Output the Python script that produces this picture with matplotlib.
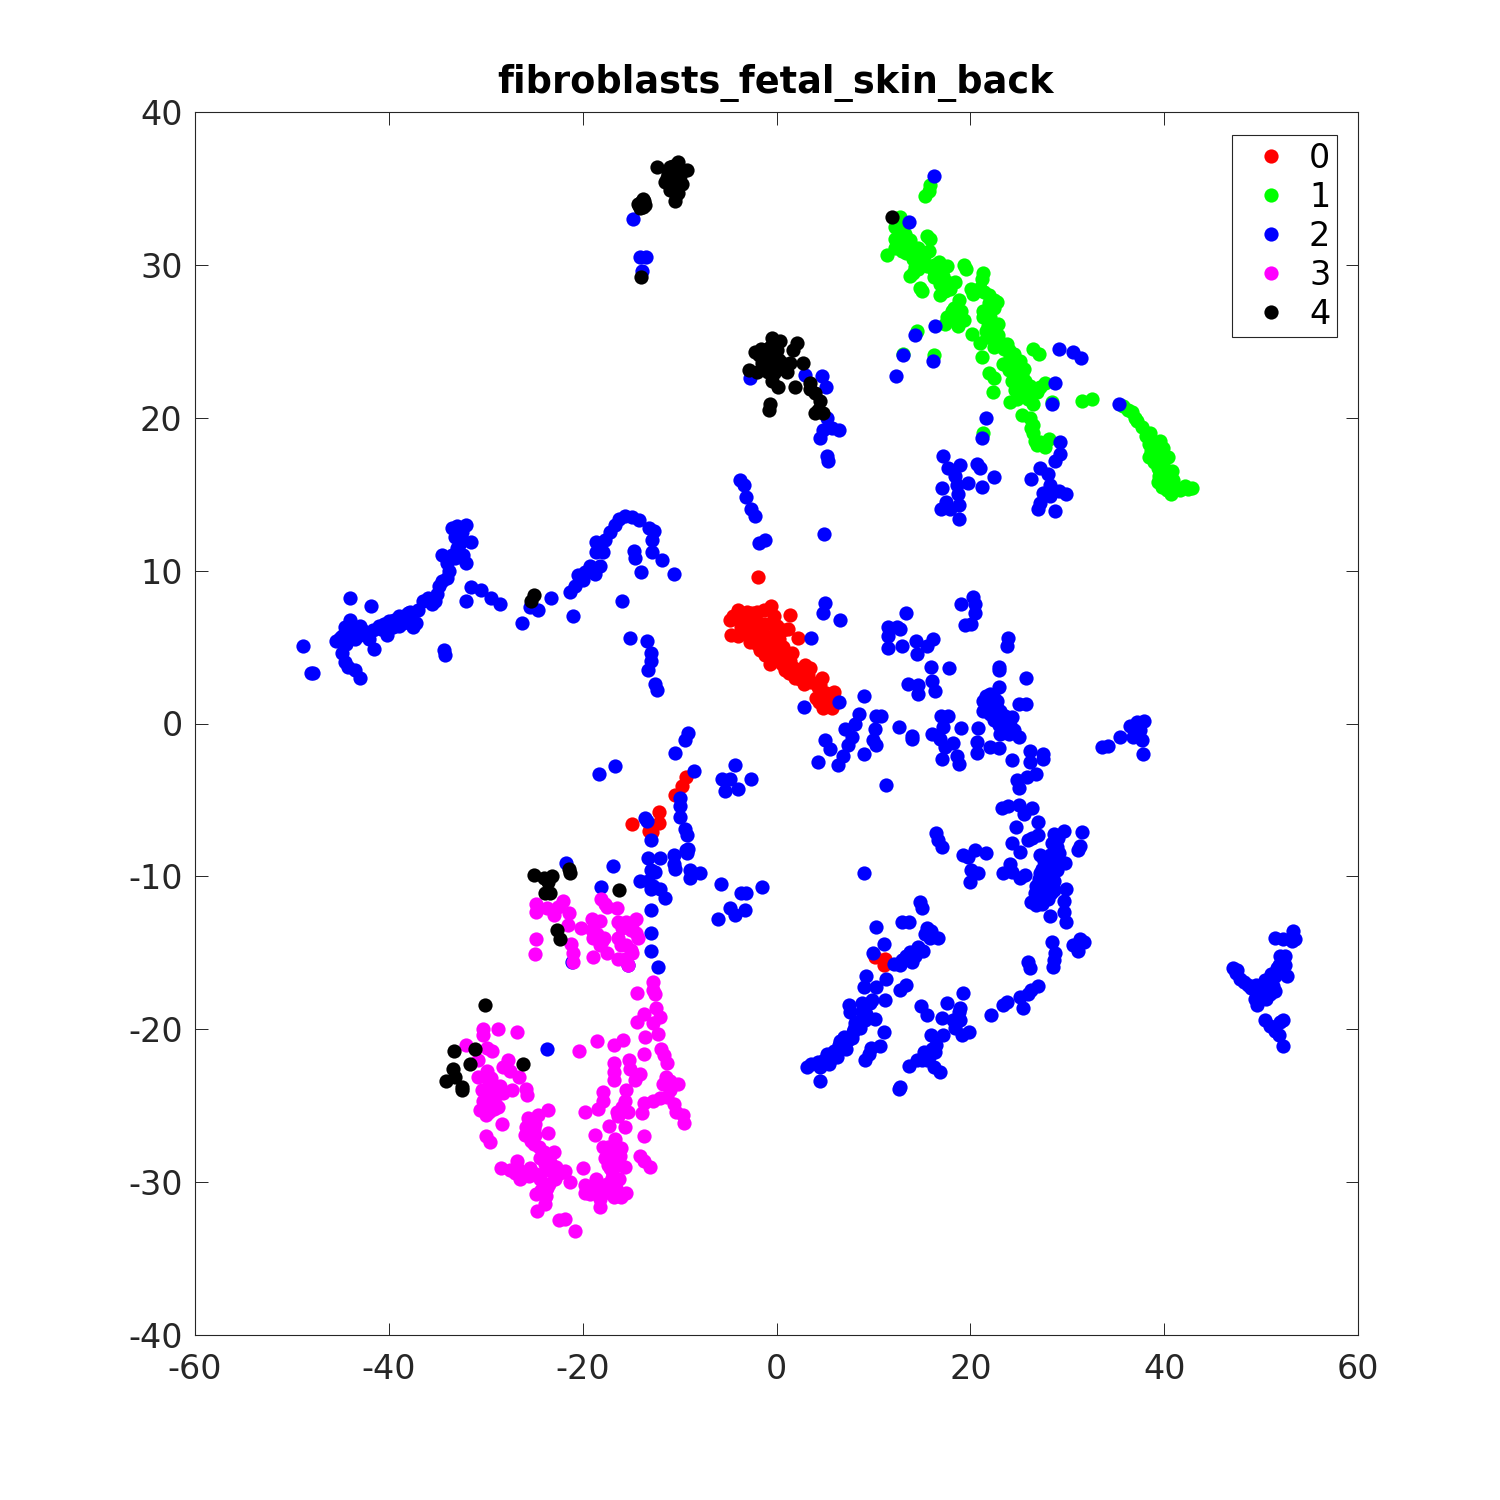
import matplotlib
matplotlib.use("Agg")
import matplotlib.pyplot as plt

plt.rcParams['axes.unicode_minus'] = False

# t-SNE style coordinates, one list per cluster/region
red_main = [(-1.9,9.6),(1.4,7.1),(-4.8,6.8),(-4.5,7),(-4,7.4),(-3.5,6.7),(-3,7.3),(-2.5,7.2),(-2,7.3),(-1.3,7.4),(-0.6,7.7),
    (-0.3,7),(-4.7,5.8),(-4,5.7),(-3.2,5.9),(-3,6.6),(-2.7,5.3),(-2.2,6),(-2,5.2),(-1.7,4.8),(-1.5,6),(-1.2,4.5),(-1,5.5),
    (-0.7,3.9),(-0.5,6.5),(-0.3,5.3),(-0.2,4.6),(0,4.2),(0,5.9),(0,6.4),(0.3,5.5),(0.5,4.5),(0.6,3.9),(0.7,6.1),(0.7,5),(0.9,3.5),
    (1,4.4),(1.2,6.2),(1.2,3.7),(2.2,5.6),(1.6,4.6),(1.4,4.1),(2.9,3.8),(3.5,3.6),(2.6,3.4),(1.9,3),(2.8,2.6),(3.3,3.2),(4.7,3),
    (4.3,2.4),(5.9,2.05),(4.1,1.7),(5.2,1.7),(4.8,1),(5.7,1),(5,1.4)]
red_dense = [(-3.7,6.3),(-2.5,6.5),(-1.8,6.6),(-1.2,6.5),(-3.2,6.3),(-2,5.7),(-1.4,5.2),(-0.8,4.9),(-0.5,5.7),(0.5,5.1),(0.9,4.7),
    (-0.4,4.3),(0.2,4.8),(1.3,3.3),(1.8,3.6),(2.2,3.2),(2.4,2.9),(3,3.3),(3.1,2.9),(3.6,2.7),(4.5,2.5),(4.6,1.9),(4.4,1.4),(5.1,2),(5.3,1.2),
    (4.9,1.7),(5.5,1.5)]
red_other = [(-14.9,-6.6),(-13.2,-7),(-12.8,-7.1),(-12.1,-6.5),(-12.1,-5.8),(-10.5,-4.7),(-9.8,-4.1),(-9.3,-3.5),(10.2,-15.3),(11.2,-15.4),(11.1,-15.8)]

green_upper = [(15.8,35.2),(15.7,34.8),(15.3,34.5),(12.7,33.1),(12.2,32.5),(12.2,31.7),(13.3,32),(13.8,31.6),(12.9,31.3),(11.4,30.65),
    (12.2,31.1),(13.4,30.8),(14.3,30.9),(15.5,31.9),(15.8,31.7),(15.7,30.9),(14.5,30.3),(15.1,30.1),(13.8,29.3),(14.3,29.85),(14.8,28.5),
    (15,28.3),(16.8,30.2),(17.6,29.9),(16.7,29.4),(17.2,29.3),(16.9,28.75),(18.4,28.9),(17.9,28.4),(16.9,28),(19.3,30),(19.6,29.7),
    (21.3,29.5),(21.2,29.1),(20.1,28.4),(20.3,28.1),(21,28.5),(21.9,28),(22.7,27.6),(22.4,27.2),(18.8,27.7),(18.1,27),(18.8,26.9),
    (17.6,26.6),(17.4,26.1),(19.3,26.4),(18.7,26),(21.3,27),(21.3,26.6),(22,26.6),(22.9,26.1),(22.4,25.9),(20.2,25.5),(21.7,25.3),
    (22.9,25.4),(21,24.9),(21.2,24),(22.4,24.6),(23.8,24.8),(26.5,24.5),(27.1,24.2),(24.1,24),(25.1,23.7),(23.4,23.5),(24.4,23.3),
    (25.5,23.2),(21.9,22.9),(22.4,22.6),(22.3,21.7),(24.3,22.4),(25.1,22.4),(24.6,21.8),(26.2,22.1),(25.6,21.7),(24.1,21),(26.5,20.9),
    (26.9,21.7),(27.7,22.3),(28.4,21),(25.3,20.2),(26.2,20),(26.5,19.5),(26.5,19),(26.9,18.2),(28.1,18.6),(27.7,18.1),(21.3,19),
    (14.5,25.7),(16.3,24.1),(13.1,24.2)]
green_dense = [(12.7,32),(13,31.8),(12.6,32.7),(13.5,31.2),(13,30.9),(14,31.2),(14.6,31.1),(14.1,30.4),(14.8,30.6),(15.2,30.6),(14.6,29.7),(14.1,29.5),
    (15.5,29.9),(16.2,29.6),(16.3,30),(17,29.8),(16.3,29.2),(17,29),(17.6,28.9),(17.4,28.3),(17.2,28.5),(21.9,27.5),(22.2,26.1),(21.8,26),(21.6,25.7),
    (22.3,25.3),(23,25),(23.5,24.5),(24,24.4),(24.5,24.2),(24.6,23.7),(24.8,23.3),(24,23.1),(24.8,22.9),(25.3,22.8),(25,22),(25.6,22.4),(25,21.4),
    (24.8,21.2),(26,21.2),(26.2,21.5),(26.3,19.3),(26.7,18.5),(27.2,18.4),(18.3,27.2),(19,27),(18.3,26.4),(20.6,28.3),(21.4,28.2),(22.4,27.7),(27.2,22)]
green_tail = [(31.5,21.1),(32.6,21.2),(35.8,20.8),(36.7,20.4),(37.2,19.8),(37.7,19.4),(38.5,19),(38.4,18.3),(39.6,18.5),(39.1,17.9),
    (39.9,18),(38.4,17.4),(40.4,17.4),(38.9,17.1),(39.9,17.1),(39.4,16.7),(40.8,16.5),(39.4,15.8),(40.9,15.9),(40.1,15.6),(40.7,15),
    (41.6,15.3),(42.2,15.55),(42.9,15.4),(42.5,15.35),(38.8,18.3),(39.2,18.2),(38.8,17.6),(39.4,17.5),(38.6,17.8),(39.2,17.2),(39.6,17.8),
    (39.9,17.5),(39.6,16.4),(40.2,16.6),(39.5,16.2),(40,16.1),(40.5,16),(40.3,15.3),(39.8,15.5),(38.1,18.8),(37,20),(36.3,20.5),(41,15.5)]

blue_left_arm = [(-48.9,5.1),(-48,3.3),(-47.8,3.3),(-45.5,5.4),(-45,5.6),(-44.8,4.6),(-44.5,4),(-44.2,3.7),(-43.5,3.5),(-43,3),(-44.5,6.3),
    (-44,6.8),(-44,8.2),(-43.5,5.5),(-43,5.8),(-43,6.4),(-42.5,6),(-42,5.5),(-41.8,7.7),(-41.5,4.9),(-41,6.4),(-40.5,6.5),(-40.2,5.8),
    (-40,6.7),(-39.5,6.8),(-39,7),(-38.5,6.6),(-38,7.2),(-37.5,6.3),(-37.2,6.6),(-37,7.4),(-36.5,8),(-36,8.2),(-35.5,7.8),(-35,8.5),
    (-34.8,9),(-34.5,9.3),(-34,9.5),(-33.8,10),(-34.5,11),(-34,10.5),(-33.5,11),(-33,11.5),(-32.8,12),(-32.5,12.5),(-32,13),(-33.5,12.8),
    (-33,12.9),(-32.3,11),(-32,10.5),(-31.5,11.9),(-32,8),(-31.5,8.9),(-30.5,8.7),(-29.5,8.2),(-28.5,7.8),(-34.3,4.8),(-34.2,4.5),
    (-44.8,5.7),(-44,5.6),(-44.4,5.2),(-43.6,6.2),(-42.8,6.1),(-41.6,6.1),(-40.8,6.2),(-39.6,6.3),(-39,6.4),(-38.4,7),(-37.8,6.6),(-37.8,7.3),
    (-35.2,8),(-33.2,10.8),(-32.8,11.2),(-32.7,11.8),(-32.4,12),(-33.2,12.2)]
blue_mid_arm = [(-26.3,6.6),(-25.4,7.6),(-24.6,7.4),(-23.3,8.2),(-21,7),(-21.3,8.6),(-20.8,9),(-20.5,9.7),(-19.8,9.9),(-19.2,10.3),(-20,9.4),
    (-18.7,9.8),(-18.2,10.3),(-18.6,11.2),(-18.6,11.9),(-17.7,12),(-17.9,11.2),(-17.2,12.5),(-16.7,13),(-16.2,13.4),(-15.6,13.6),(-14.9,13.5),
    (-14.2,13.3),(-13.2,12.8),(-12.6,12.6),(-14.7,11.3),(-14.6,10.8),(-12.8,12),(-12.8,11.2),(-11.8,10.7),(-14,9.9),(-10.6,9.8),(-15.9,8),
    (-15.1,5.6),(-13.4,5.4),(-12.9,4.6),(-13,4.1),(-13.3,3.5),(-12.5,2.6),(-12.3,2.2)]
blue_top = [(-14.8,33),(-14.1,30.5),(-13.5,30.5),(-13.9,29.6),(-2.7,22.6),(2.9,22.8),(4.7,22.7),(5.1,22),(5.2,20),(4.8,19.2),(4.5,18.7),
    (5.7,19.3),(6.5,19.2),(5.2,17.5),(5.3,17.2),(4.9,12.4),(-3.8,15.9),(-3.4,15.6),(-3.1,14.8),(-2.6,14),(-2.2,13.6),(-1.8,11.8),(-1.2,12)]
blue_upper_right = [(16.2,35.8),(13.7,32.8),(14.3,25.4),(16.4,26),(13.1,24.1),(16.1,23.7),(12.3,22.7),(29.2,24.5),(30.6,24.3),(31.4,23.9),
    (28.7,22.3),(28.4,20.9),(35.3,20.9),(21.6,20),(21.2,18.7),(29.3,18.4),(29.3,17.6),(28.7,17.2),(17.2,17.5),(17.7,16.7),(18.9,16.9),
    (18.4,16.2),(20.7,17),(21,16.7),(22.4,16.1),(19.8,15.7),(21.2,15.5),(18.6,15.6),(17.1,15.4),(18.7,15),(17.5,14.5),(18.8,14.3),(17,14),
    (17.9,14),(18.8,13.4),(26.3,16),(27.2,16.7),(28,16.3),(28.2,15.6),(27.5,15.1),(29.1,15.2),(29.9,15),(28.2,14.9),(27,14),(27.2,14.4),(28.7,13.9)]
blue_center = [(5,7.9),(4.8,7.2),(6.6,6.8),(3.6,5.6),(13.4,7.2),(11.5,6.3),(12.4,6.3),(12.7,6.2),(11.5,5.75),(11.5,4.95),(12.9,5.1),(14.4,5.4),
    (14.5,4.55),(15.5,5.1),(16.1,5.5),(15.9,3.7),(17.8,3.6),(13.6,2.6),(14.6,2.5),(14.6,1.9),(16,2.75),(16.4,2.1),(19,7.8),(20.3,8.3),
    (20.5,7.8),(20.5,7.2),(20.1,6.5),(19.5,6.45),(23.9,5.6),(23.8,5.1),(23,3.7),(23,3.5),(25.7,3),(23,2.4),(9,1.8),(2.8,1.1),(6.4,1.4),
    (8.5,0.6),(10.3,0.5),(10.8,0.5),(8.1,0),(7.1,-0.35),(10.2,-0.35),(7.8,-0.9),(10,-1.1),(5,-1.1),(5.5,-1.65),(7.4,-1.4),(10.3,-1.4),
    (6.9,-2.1),(9,-2),(4.3,-2.5),(6.3,-2.7),(12.6,-0.2),(14,-0.8),(14,-1),(17,0.5),(17.7,0.5),(17.2,-0.25),(19,-0.3),(16,-0.7),(16.9,-1),
    (18.2,-1.3),(17.4,-1.55),(18.6,-2.1),(17.1,-2.35),(18.8,-2.65),(20.8,-0.3),(20.7,-1.2),(20.7,-1.9),(22,-1.55),(23,-1.6),(22,1.95),
    (21.3,1.5),(22.7,1.5),(21.3,0.85),(23.1,0.85),(22,0.6),(24.3,0.4),(24.1,-0.1),(22.4,0.2),(23.1,-0.7),(24,-0.7),(25,-0.9),(25,1.3),
    (25.7,1.25),(22,1.3),(33.6,-1.55),(34.2,-1.5),(35.4,-0.9),(36.5,-0.15),(36.8,-0.9),(37.7,-1.1),(37.8,-2),(37.9,0.15),(37.2,0.1),
    (37.5,-0.45),(24.3,-2.4),(26.2,-1.8),(27.5,-2),(27.5,-2.3),(26.2,-2.5),(26.8,-3.3),(25.8,-3.5),(24.8,-3.7),(25,-4.2),(11.3,-4.05),
    (21.6,1.8),(22.4,1.7),(21.6,1.1),(22.2,1),(22.8,1),(22.9,0.4),(23.4,0.2),(23.6,0.5),(23,-0.1),(23.6,-0.2),(24.5,-0.4),(23.4,-0.5)]
blue_lower_right = [(23.3,-5.55),(23.9,-5.4),(25,-5.3),(25.5,-5.9),(26.4,-5.55),(27,-6.45),(24.7,-6.75),(28.6,-7.2),(29.7,-7.05),(31.5,-7.1),
    (27,-7.3),(26,-7.65),(24.3,-7.8),(31.3,-8),(31.1,-8.3),(28.9,-8.1),(25.1,-8.4),(27.2,-8.6),(28.9,-8.75),(29.8,-9.1),(24.1,-9.2),
    (23.4,-9.8),(24.3,-9.7),(25.1,-10.1),(25.6,-9.9),(27.2,-9.8),(28.2,-9.4),(28.9,-9.6),(27.9,-10.2),(28.6,-10.3),(26.8,-10.6),(27.9,-10.7),
    (28.6,-10.9),(29.9,-10.8),(29.7,-11.6),(26.7,-11.1),(26.3,-11.7),(27.4,-11.8),(28,-11.5),(26.8,-11.9),(28.2,-12.6),(29.7,-12.3),(29.9,-13),
    (28.4,-14.3),(28.7,-15),(28.6,-15.5),(28.5,-15.9),(31.3,-14.1),(31.7,-14.3),(30.6,-14.5),(31.1,-14.9),(26,-15.6),(26.2,-16),(27,-17.2),
    (26.3,-17.4),(25.1,-17.9),(26,-17.7),(25.4,-18.6),(23.8,-18.2),(23.4,-18.4),(22.1,-19.1),(16.5,-7.15),(16.7,-7.65),(17.1,-8.1),(19.2,-8.6),
    (19.8,-8.7),(20.5,-8.3),(21.6,-8.5),(20.1,-9.6),(20.8,-9.8),(20,-10.4),(9,-9.8),
    (27.6,-9),(28.2,-8.6),(28,-9),(27.4,-9.5),(27.5,-10.5),(27.1,-10.2),(28.3,-10.1),(27.1,-11),(27.4,-11.2),(27.9,-11.2),(26.7,-11.5),(28.4,-7.8),
    (29,-7.5),(29.2,-8.5),(28.3,-11.1),(26.4,-7.5)]
blue_bottom = [(14.8,-11.7),(15,-12.05),(10.3,-13.3),(12.9,-13),(13.7,-13),(15.5,-13.4),(15.8,-14),(16.7,-14),(11.1,-14.4),(10,-15),(15.1,-14.85),
    (14.6,-14.6),(13.8,-14.95),(14,-15.6),(13.1,-15.5),(12.1,-15.7),(12.7,-15.8),(9.2,-16.5),(11.3,-16.7),(9,-17.25),(10.3,-17.25),(13.4,-17.1),
    (12.7,-17.4),(11.2,-18.1),(7.5,-18.4),(7.6,-18.9),(9.6,-18.3),(8.8,-18.8),(10.2,-19.3),(9.1,-19.4),(8.6,-19.9),(7.9,-20.2),(7.4,-20.7),
    (6.6,-20.8),(7.2,-21.3),(5.9,-21.4),(6.2,-21.8),(5.2,-21.6),(5.4,-22.3),(4.3,-22.15),(3.1,-22.5),(3.6,-22.3),(4.5,-23.4),(11.1,-20.2),
    (10.7,-21.1),(9.8,-21.2),(9.5,-21.6),(9.1,-22),(12.6,-23.9),(12.7,-23.8),(14.9,-18.5),(15.5,-19.1),(17.6,-18.3),(19.2,-17.6),(18.9,-18.6),
    (18.8,-18.9),(17.1,-19.25),(18.4,-19.9),(19.9,-20.2),(19.1,-20.4),(17.2,-20.4),(15.9,-20.4),(16.5,-21),(16.4,-21.5),(15.2,-21.5),(15.5,-22),
    (14.5,-22),(13.7,-22.4),(16.2,-22.5),(16.9,-22.8),
    (8.8,-18.3),(9.2,-19),(8.4,-19.5),(8.1,-19.6),(7.8,-20.6),(8,-20),(7,-20.5),(6.7,-21.2),(6.4,-21),(5.7,-21.9),(4.9,-22),(4.5,-22.5),(9.9,-18.1),
    (16,-21.3),(15.7,-21.8),(15,-22),(12.9,-15.5),(13.4,-15.2),(14.3,-15.2),(14.7,-14.9),(15.3,-13.8),(15.9,-13.6),(18.9,-19.4),(18.2,-19.4)]
blue_far_right = [(47.1,-16),(47.4,-16.3),(47.8,-16.7),(48.6,-17.1),(49.4,-18),(49.6,-18.4),(50.1,-17.5),(50.9,-17.1),(51.4,-17.5),(50.4,-16.8),
    (51.4,-16.5),(51.9,-15.8),(51.4,-14),(52.3,-14.1),(52.5,-15.2),(52.5,-15.8),(53.5,-14.1),(53.3,-13.6),(52.7,-16.5),(50.4,-19.4),(50.9,-19.8),
    (52.3,-19.4),(51.4,-20.1),(51.9,-20.4),(52.3,-21.1),
    (49,-17.3),(49.8,-17.5),(50.3,-17.2),(50.7,-16.9),(50.9,-17.7),(51,-16.4),(51.6,-16),(52,-15.2),(48.2,-16.9),(49.5,-17.1),(50.5,-18),(51.2,-17.2),
    (47.5,-16.1),(52.1,-16.2),(53.2,-14.2),(52,-19.5)]
blue_lower_left = [(-18.3,-3.3),(-16.7,-2.8),(-10.5,-1.9),(-9.1,-0.65),(-9.4,-1.1),(-8.5,-3.1),(-4.3,-2.7),(-5.6,-3.6),(-4.8,-3.6),(-2.6,-3.6),
    (-5.3,-4.4),(-4,-4.3),(-10,-4.9),(-10,-5.4),(-10,-6.1),(-9.4,-6.9),(-9.2,-7.3),(-13.6,-6.2),(-13.4,-6.4),(-13,-7.6),(-9.1,-8.2),(-9.2,-8.5),
    (-10.6,-8.6),(-12,-8.8),(-13.3,-8.8),(-10.6,-9.2),(-13,-9.6),(-8.9,-9.6),(-7.9,-9.8),(-8.9,-10.1),(-16.9,-9.3),(-18.1,-10.7),(-14.1,-10.3),
    (-13.3,-10.3),(-13,-10.8),(-12,-10.8),(-11.5,-11.4),(-13,-12.2),(-12.9,-13.7),(-12.9,-14.9),(-12.2,-15.9),(-15.3,-15.8),(-5.7,-10.5),
    (-1.5,-10.7),(-3.7,-11.1),(-3.1,-11.1),(-6,-12.8),(-4.8,-12.1),(-4.3,-12.5),(-3.2,-12.2),(-21.7,-9.1),(-21.1,-15.6),(-23.7,-21.3),
    (-12.5,-9.7),(-12.7,-10.6),(-10.5,-9.5),(-9.3,-8.3)]

magenta_upper = [(-24.8,-11.8),(-24.8,-12.3),(-23.7,-12.1),(-23,-12.5),(-22,-11.6),(-21.4,-12.4),(-22.5,-12),(-21.5,-13.2),(-20.2,-13.4),(-19,-12.8),
    (-18.2,-12.9),(-18.1,-11.5),(-17.5,-12),(-16.5,-12.1),(-17.7,-11.8),(-24.8,-14.1),(-24.9,-15.1),(-21.2,-14.4),(-21,-15),(-21,-15.6),(-19,-13.5),
    (-18.9,-14),(-18.5,-13.8),(-18.2,-14.5),(-17.5,-15),(-18.9,-15.3),(-16.4,-13),(-16.4,-14),(-15.5,-13),(-14.5,-12.8),(-14.3,-14),(-14.5,-13.7),
    (-15,-14.8),(-14.9,-15),(-16.4,-15.4),(-15.6,-15.4),(-15.3,-15.8),(-15,-13.5),(-16,-14.5),(-17.8,-14),(-18,-14.2),(-15.5,-14.5),(-15.9,-13.4),(-14.9,-13.1)]
magenta_stem = [(-12.7,-16.9),(-12.7,-17.4),(-12.5,-17.7),(-14.4,-17.6),(-12.4,-18.6),(-12,-19.2),(-13.7,-19),(-14.4,-19.5),(-12.7,-19.6),(-12.2,-20.3),
    (-13.6,-20.5),(-13.7,-21.6),(-11.9,-21.3),(-11.6,-21.7),(-11.3,-22.2),(-11.4,-23.1),(-11.7,-23.6),(-10.2,-23.6),(-11,-24),(-11.3,-24.4),(-12.7,-24.7),
    (-13.7,-24.8),(-13.9,-25.5),(-10.6,-24.9),(-10.4,-25.4),(-9.6,-25.6),(-9.5,-26.1),(-15.8,-20.7),(-16.8,-21),(-18.5,-20.8),(-20.4,-21.4),(-16.8,-22.2),
    (-15.2,-22),(-15.1,-22.6),(-14.1,-22.9),(-14.6,-23.3),(-16.8,-22.8),(-16.8,-23.3),(-17.9,-24.1),(-15.5,-24),(-15.6,-24.7),(-17.9,-24.7),(-18.4,-25.2),
    (-19.8,-25.4),(-16.5,-25.4),(-15.3,-25.4),(-15.6,-26.4),(-17.3,-26.3),(-18.7,-26.9),(-13.7,-27),(-16.7,-27.2),(-11,-23.4),(-12,-24.5),(-16.4,-25.7),(-15.9,-25.1)]
magenta_bottom = [(-17.9,-27.7),(-16,-27.8),(-17.7,-28.4),(-16.5,-28.4),(-14.1,-28.3),(-13.7,-28.6),(-13.1,-29),(-15.6,-29),(-17.2,-29.1),(-16.3,-29.8),
    (-20,-29.1),(-21.3,-30),(-18.6,-29.8),(-19.8,-30.2),(-18.9,-30.4),(-17.9,-30.4),(-19.8,-30.7),(-16.8,-31),(-16,-31),(-15.5,-30.7),(-18.2,-31.6),
    (-18.2,-31.1),(-17.5,-30.1),(-23.6,-25.3),(-24.6,-25.6),(-25.6,-25.8),(-24.9,-26.2),(-25.8,-26.4),(-26,-26.9),(-24.9,-26.9),(-23.6,-26.8),(-25.3,-27.3),
    (-24.5,-27.7),(-24.4,-28.4),(-23,-28),(-23.4,-28.7),(-26.8,-28.6),(-28.4,-29.1),(-27.5,-29.2),(-26.5,-29.8),(-26.6,-29.2),(-25.4,-29.1),(-24.8,-29.5),
    (-23.7,-29.2),(-22.7,-29),(-21.8,-29.3),(-22.9,-29.8),(-23.5,-30.1),(-24.8,-30.8),(-23.8,-30.9),(-23.9,-31.4),(-24.7,-31.9),(-22.4,-32.5),(-21.8,-32.4),(-20.8,-33.2),
    (-18.5,-30.6),(-19.2,-30.8),(-17.2,-30.7),(-16.6,-30.4),(-17,-29.7),(-17.4,-28.9),(-16.9,-28),(-16.3,-28.9),(-16.1,-28.3),(-17,-29.3),(-17.4,-27.7),(-18.2,-30.7),
    (-23,-29.5),(-22.3,-29.4),(-23,-29),(-23.9,-28.8),(-24,-28.3),(-24,-28),(-25,-27.5),(-24.4,-29.8),(-23.7,-30.4),(-24.3,-30.5),(-25.6,-26.9),(-25,-26.5),(-25.5,-29.6),(-27,-29.4)]
magenta_left = [(-30.3,-20),(-30.3,-20.4),(-28.7,-20),(-26.8,-20.2),(-32,-21),(-29.4,-21.4),(-29.9,-21.2),(-30.8,-22),(-27.7,-22),(-28.2,-22.5),(-29.9,-22.7),
    (-30.8,-23.1),(-27.5,-22.7),(-26.6,-23.1),(-29.7,-23.6),(-30.4,-24),(-28.5,-23.7),(-27.3,-24),(-28.2,-24.2),(-25.8,-23.9),(-25.7,-24.3),(-30.3,-24.7),
    (-29.4,-24.6),(-28.7,-25.1),(-30.6,-25.3),(-29.7,-25.4),(-29.6,-25),(-28.3,-26.2),(-30,-27),(-29.6,-27.4),(-30,-24.3),(-29.6,-24.2),(-29.1,-25.2),(-30,-25.6),(-29,-24.8),(-29.5,-23.2)]

black_top = [(-12.3,36.4),(-10.2,36.7),(-10.7,36.5),(-9.2,36.2),(-11.2,36),(-10,35.8),(-11.5,35.4),(-10.5,35.2),(-9.8,35.3),(-11,34.9),(-10.2,34.7),(-10.5,34.2),
    (-13.8,34.3),(-14.3,34),(-13.6,33.9),(-14.1,33.7),(-14,29.2),(11.9,33.1),
    (-10.8,36),(-10.4,36.2),(-10.2,35.6),(-11,35.5),(-10.6,35),(-10.4,34.6),(-11,36.4),(-10,36.3),(-14,34.1),(-13.7,34.2),(-14.2,33.9),(-13.8,33.8),(-11.3,35.7)]
black_mid = [(-0.5,25.2),(0.4,25),(2.1,24.9),(1.7,24.4),(-2.2,24.3),(-1.2,24.4),(-0.7,23.9),(-1.5,23.6),(-0.2,24.1),(1.4,23.6),(2.7,23.6),(-2.8,23.1),(-2,23),
    (-0.9,23),(0.2,23.2),(1.1,23),(-0.5,22.4),(0.2,22),(1.9,22),(3.5,22.3),(4,21.6),(3.5,21.9),(4.5,21.1),(4.3,20.5),(4,20.3),(4.8,20.3),(-0.7,20.9),(-0.8,20.5),
    (-25,8.4),(-25.3,8),(-1.8,24.1),(-1,23.8),(-0.4,23.5),(-1.2,23.1),(-0.3,22.9),(0.6,23.6),(0,24.4),(0.3,23.8),(-1.6,24.5),(-0.7,24.6)]
black_low = [(-30.1,-18.4),(-33.3,-21.4),(-31.1,-21.3),(-31.6,-22.3),(-26.2,-22.3),(-33.4,-22.6),(-33.2,-23.1),(-34.1,-23.4),(-32.5,-24),(-32.5,-23.8),
    (-22.6,-13.5),(-22.3,-14.1),(-16.3,-10.9),(-23.9,-11.1),(-23.4,-11.1),(-23.6,-10.4),(-25,-9.9),(-24,-10.1),(-23.2,-10),(-21.4,-9.5),(-21.3,-9.8)]

clusters = [
    ("0", "#ff0000", red_main + red_dense + red_other),
    ("1", "#00ff00", green_upper + green_dense + green_tail),
    ("2", "#0000ff", blue_left_arm + blue_mid_arm + blue_top + blue_upper_right + blue_center
        + blue_lower_right + blue_bottom + blue_far_right + blue_lower_left),
    ("3", "#ff00ff", magenta_upper + magenta_stem + magenta_bottom + magenta_left),
    ("4", "#000000", black_top + black_mid + black_low),
]

fig = plt.figure(figsize=(15, 15), dpi=100)
ax = fig.add_axes([195/1500, 1-1335/1500, 1163/1500, 1223/1500])

for name, col, pts in clusters:
    xs = [p[0] for p in pts]
    ys = [p[1] for p in pts]
    ax.scatter(xs, ys, s=105, c=col, linewidths=0, label=name, clip_on=False)

ax.set_xlim(-60, 60)
ax.set_ylim(-40, 40)
ax.set_xticks(range(-60, 61, 20))
ax.set_yticks(range(-40, 41, 10))
ax.tick_params(direction="in", top=True, right=True, length=9, width=0.7,
               labelsize=24, colors="#262626")
ax.tick_params(axis="x", pad=13)
ax.tick_params(axis="y", pad=9)
for s in ax.spines.values():
    s.set_linewidth(0.8)
    s.set_color("#262626")

fig.text(776/1500, 1-83/1500, "fibroblasts_fetal_skin_back", fontsize=26.4,
         fontweight="bold", ha="center", va="center", color="black")

leg = ax.legend(loc="upper right", bbox_to_anchor=(1337/1500, 1-135/1500),
                bbox_transform=fig.transFigure, borderaxespad=0, fontsize=24,
                fancybox=False, framealpha=1, edgecolor="#262626",
                labelspacing=0.18, handletextpad=0.18, borderpad=0.2,
                handlelength=1.94, scatterpoints=1, scatteryoffsets=[0.48])
leg.get_frame().set_linewidth(0.8)

fig.savefig("out.png", dpi=100)
